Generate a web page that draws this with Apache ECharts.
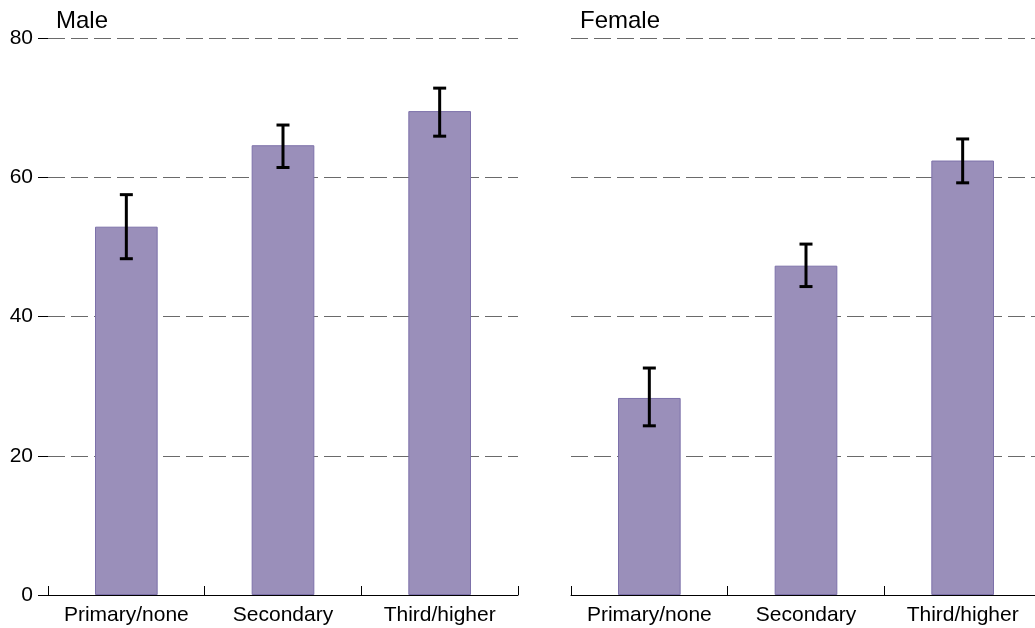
<!DOCTYPE html>
<html>
<head>
<meta charset="utf-8">
<script src="https://cdn.jsdelivr.net/npm/echarts@6/dist/echarts.min.js"></script>
<style>
  html, body { margin: 0; padding: 0; background: #fff; overflow: hidden; }
  #chart { width: 1042px; height: 628px; }
</style>
</head>
<body>
<div id="chart"></div>
<script>
// Education level categories shared by both panels
const categories = ['Primary/none', 'Secondary', 'Third/higher'];
const panelTitles = ['Male', 'Female'];

// Percentages with confidence intervals
const maleValues = [52.9, 64.6, 69.5];
const maleLow = [48.3, 61.4, 65.9];
const maleHigh = [57.5, 67.5, 72.8];

const femaleValues = [28.3, 47.3, 62.4];
const femaleLow = [24.3, 44.3, 59.2];
const femaleHigh = [32.6, 50.4, 65.5];

// Y axis range
const yMin = 0;
const yMax = 80;
const yStep = 20;

const FONT = 'Liberation Sans, Arial, sans-serif';
const BAR_FILL = '#9a8fba';
const BAR_EDGE = '#7d71aa';

function errorRows(low, high) {
  return categories.map((c, i) => [i, low[i], high[i]]);
}

// Whisker with caps, positioned through the axis scales
function renderErrorBar(params, api) {
  const x = api.value(0);
  const top = api.coord([x, api.value(2)]);
  const bot = api.coord([x, api.value(1)]);
  const half = 6.5;
  const style = { stroke: '#000', lineWidth: 3 };
  return {
    type: 'group',
    children: [
      { type: 'line', shape: { x1: top[0], y1: top[1], x2: bot[0], y2: bot[1] }, style },
      { type: 'line', shape: { x1: top[0] - half, y1: top[1], x2: top[0] + half, y2: top[1] }, style },
      { type: 'line', shape: { x1: bot[0] - half, y1: bot[1], x2: bot[0] + half, y2: bot[1] }, style }
    ]
  };
}

function xAxisFor(gridIndex) {
  return {
    type: 'category',
    gridIndex,
    data: categories,
    boundaryGap: true,
    axisLine: { show: true, lineStyle: { color: '#000', width: 1 } },
    axisTick: { show: true, inside: true, length: 9, interval: 0, lineStyle: { color: '#000', width: 1 } },
    axisLabel: { color: '#000', fontSize: 21, fontFamily: FONT, margin: 10, interval: 0, hideOverlap: false },
    splitLine: { show: false }
  };
}

function yAxisFor(gridIndex, showLabels) {
  return {
    type: 'value',
    gridIndex,
    min: yMin,
    max: yMax,
    interval: yStep,
    axisLine: { show: false },
    axisTick: { show: showLabels, inside: false, length: 10, lineStyle: { color: '#000', width: 1 } },
    axisLabel: { show: showLabels, color: '#000', fontSize: 21, fontFamily: FONT, margin: 15, padding: [7, 0, 0, 0] },
    splitLine: { show: true, lineStyle: { color: '#6a6a6a', width: 1, type: [17, 6] } }
  };
}

const chart = echarts.init(document.getElementById('chart'), null, { renderer: 'canvas' });

chart.setOption({
  backgroundColor: '#fff',
  animation: false,
  textStyle: { fontFamily: FONT },
  title: [
    { text: panelTitles[0], left: 51, top: 4, textStyle: { fontSize: 24, fontWeight: 'normal', color: '#000', fontFamily: FONT } },
    { text: panelTitles[1], left: 575, top: 4, textStyle: { fontSize: 24, fontWeight: 'normal', color: '#000', fontFamily: FONT } }
  ],
  grid: [
    { left: 48, top: 38, width: 470, height: 557 },
    { left: 571, top: 38, width: 470, height: 557 }
  ],
  xAxis: [xAxisFor(0), xAxisFor(1)],
  yAxis: [yAxisFor(0, true), yAxisFor(1, false)],
  series: [
    {
      name: panelTitles[0], type: 'bar', xAxisIndex: 0, yAxisIndex: 0,
      data: maleValues, barWidth: '40%',
      itemStyle: { color: BAR_FILL, borderColor: BAR_EDGE, borderWidth: 1 }
    },
    {
      name: panelTitles[1], type: 'bar', xAxisIndex: 1, yAxisIndex: 1,
      data: femaleValues, barWidth: '40%',
      itemStyle: { color: BAR_FILL, borderColor: BAR_EDGE, borderWidth: 1 }
    },
    {
      type: 'custom', xAxisIndex: 0, yAxisIndex: 0, z: 10,
      renderItem: renderErrorBar, encode: { x: 0, y: [1, 2] },
      data: errorRows(maleLow, maleHigh)
    },
    {
      type: 'custom', xAxisIndex: 1, yAxisIndex: 1, z: 10,
      renderItem: renderErrorBar, encode: { x: 0, y: [1, 2] },
      data: errorRows(femaleLow, femaleHigh)
    }
  ]
});
</script>
</body>
</html>
